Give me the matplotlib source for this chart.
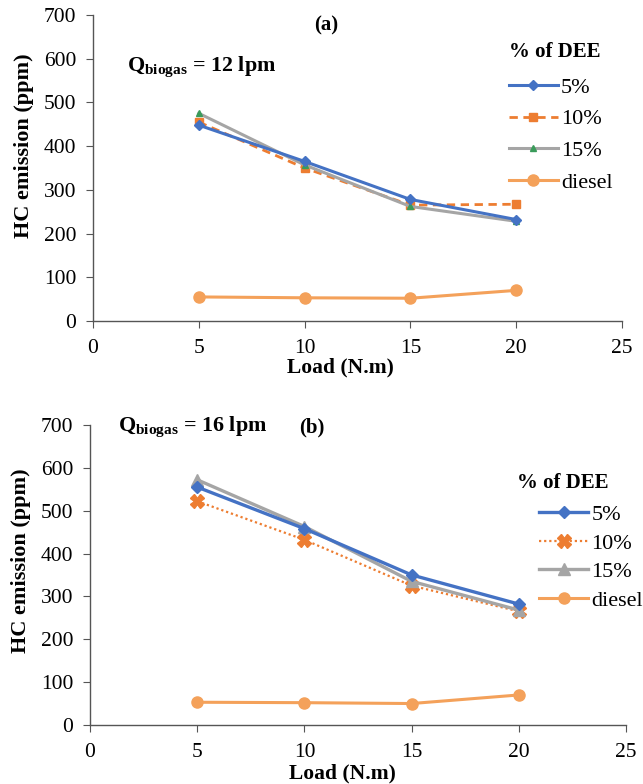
import matplotlib
matplotlib.use("Agg")
import matplotlib.pyplot as plt

plt.rcParams["font.family"] = ["Liberation Serif", "DejaVu Serif"]
plt.rcParams["mathtext.fontset"] = "custom"
plt.rcParams["mathtext.bf"] = "Liberation Serif:bold"
plt.rcParams["mathtext.rm"] = "Liberation Serif"

load = [5, 10, 15, 20]
labels = ["5%", "10%", "15%", "diesel"]

# panel (a): Q_biogas = 12 lpm
hc_a_5 = [448, 365, 278, 232]
hc_a_10 = [455, 350, 265, 267]
hc_a_15 = [475, 357, 262, 228]
hc_a_diesel = [55, 53, 52, 70]

# panel (b): Q_biogas = 16 lpm
hc_b_5 = [555, 458, 350, 282]
hc_b_10 = [522, 432, 325, 265]
hc_b_15 = [572, 463, 335, 268]
hc_b_diesel = [53, 52, 50, 70]

BLUE = "#4472C4"
ORANGE = "#ED7D31"
GRAY = "#A5A5A5"
DIESEL = "#F4A15A"
GREEN = "#3A9B5A"

fig = plt.figure(figsize=(6.43, 7.84), dpi=100)
ax_a = fig.add_axes([0.1446, 0.5906, 0.8227, 0.3903])
ax_b = fig.add_axes([0.140, 0.0753, 0.8336, 0.3827])


def style_axes(ax, xlab_pos, ylab_pos):
    ax.set_xlim(0, 25)
    ax.set_ylim(0, 700)
    ax.set_xticks([0, 5, 10, 15, 20, 25])
    ax.set_yticks(range(0, 701, 100))
    for s in ("top", "right"):
        ax.spines[s].set_visible(False)
    for s in ("left", "bottom"):
        ax.spines[s].set_color("#555555")
        ax.spines[s].set_linewidth(1.0)
    ax.tick_params(labelsize=15.5, length=5, color="#555555")
    ax.tick_params(axis="y", pad=7)
    ax.tick_params(axis="x", pad=8)
    ax.set_xlabel("Load (N.m)", fontsize=15.5, fontweight="bold")
    ax.set_ylabel("HC emission (ppm)", fontsize=16, fontweight="bold")
    ax.xaxis.set_label_coords(*xlab_pos)
    ax.yaxis.set_label_coords(*ylab_pos)


def add_legend(ax, title_xy, anchor, spacing):
    ax.text(title_xy[0], title_xy[1], "% of DEE", transform=ax.transAxes, fontsize=15,
            fontweight="bold", ha="left", va="center")
    ax.legend(loc="upper left", bbox_to_anchor=anchor, frameon=False, fontsize=16,
              handlelength=2.2, handletextpad=0.15, labelspacing=spacing,
              borderaxespad=0, borderpad=0)


# (a)
ax_a.plot(load, hc_a_5, color=BLUE, lw=2.2, marker="D", ms=5, label=labels[0], zorder=4)
ax_a.plot(load, hc_a_10, color=ORANGE, lw=2.0, ls=(0, (3, 2)), marker="s", ms=6,
          label=labels[1], zorder=3)
ax_a.plot(load, hc_a_15, color=GRAY, lw=2.2, marker="^", ms=5, mfc=GREEN, mec=GREEN,
          label=labels[2], zorder=3)
ax_a.plot(load, hc_a_diesel, color=DIESEL, lw=2.2, marker="o", ms=8, label=labels[3], zorder=3)
style_axes(ax_a, (0.467, -0.12), (-0.112, 0.572))
ax_a.text(0.44, 0.967, "(a)", transform=ax_a.transAxes, fontsize=15, fontweight="bold",
          ha="center", va="center")
ax_a.text(0.064, 0.83, r"Q$_{\mathbf{biogas}}$ = 12 lpm", transform=ax_a.transAxes,
          fontsize=15.8, fontweight="bold", ha="left", va="center")
add_legend(ax_a, (0.786, 0.879), (0.786, 0.797), 0.5)

# (b)
ax_b.plot(load, hc_b_5, color=BLUE, lw=2.4, marker="D", ms=6, label=labels[0], zorder=4)
ax_b.plot(load, hc_b_10, color=ORANGE, lw=1.6, ls=(0, (1, 1.3)), marker="X", ms=10,
          label=labels[1], zorder=3)
ax_b.plot(load, hc_b_15, color=GRAY, lw=2.4, marker="^", ms=8, label=labels[2], zorder=3)
ax_b.plot(load, hc_b_diesel, color=DIESEL, lw=2.2, marker="o", ms=8, label=labels[3], zorder=3)
style_axes(ax_b, (0.47, -0.13), (-0.110, 0.547))
ax_b.text(0.414, 0.99, "(b)", transform=ax_b.transAxes, fontsize=15, fontweight="bold",
          ha="center", va="center")
ax_b.text(0.052, 0.99, r"Q$_{\mathbf{biogas}}$ = 16 lpm", transform=ax_b.transAxes,
          fontsize=15.8, fontweight="bold", ha="left", va="center")
add_legend(ax_b, (0.797, 0.807), (0.838, 0.735), 0.36)

fig.savefig("out.png", dpi=100, facecolor="white")
